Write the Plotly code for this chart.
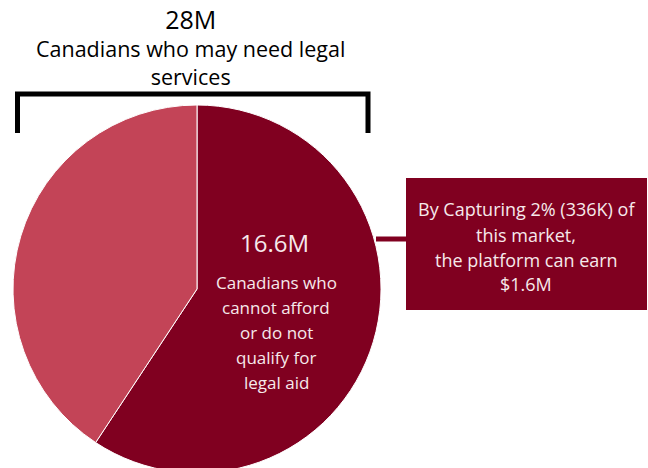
import plotly.graph_objects as go

# ---- data ----
slice_labels = ["Cannot afford / do not qualify for legal aid", "Other Canadians who may need legal services"]
slice_values = [16.6, 11.4]          # millions
total_value = 28                     # millions
title_lines = ["Canadians who may need legal", "services"]
body_lines = ["Canadians who", "cannot afford", "or do not", "qualify for", "legal aid"]
box_lines = ["By Capturing 2% (336K) of", "this market,", "the platform can earn", "$1.6M"]

DARK = "#800020"
LIGHT = "#C34457"
TXT = "#F6E9EB"
FONT = "Open Sans"

W, H = 648, 474

def px(x):
    return x / W

def py(y):
    return 1 - y / H

fig = go.Figure()
fig.add_trace(go.Pie(
    labels=slice_labels,
    values=slice_values,
    sort=False,
    direction="clockwise",
    rotation=0,
    marker=dict(colors=[DARK, LIGHT], line=dict(color="white", width=1)),
    textinfo="none",
    hoverinfo="label+value",
    showlegend=False,
    domain=dict(x=[px(13), px(381)], y=[py(473), py(105)]),
))

shapes = [
    dict(type="path", xref="paper", yref="paper",
         path=f"M {px(17.5)} {py(133)} L {px(17.5)} {py(94)} L {px(368)} {py(94)} L {px(368)} {py(133)}",
         line=dict(color="black", width=5), fillcolor="rgba(0,0,0,0)"),
    dict(type="line", xref="paper", yref="paper", x0=px(376), x1=px(407), y0=py(239), y1=py(239),
         line=dict(color=DARK, width=5)),
    dict(type="rect", xref="paper", yref="paper", x0=px(406), x1=px(647), y0=py(310), y1=py(178),
         fillcolor=DARK, line=dict(width=0)),
]

title_text = f"<span style='font-size:25px'>{total_value}M</span><br>" + "<br>".join(title_lines)
annotations = [
    dict(text=title_text, x=px(191), y=py(46), font=dict(size=21.5, color="black", family=FONT)),
    dict(text=f"{slice_values[0]}M", x=px(274), y=py(242), font=dict(size=24, color=TXT, family=FONT)),
]
for t, yy in zip(body_lines, [282, 307, 332, 357, 382]):
    annotations.append(dict(text=t, x=px(276), y=py(yy), font=dict(size=17, color=TXT, family=FONT)))
for t, yy in zip(box_lines, [209, 235, 260, 284]):
    annotations.append(dict(text=t, x=px(526), y=py(yy), font=dict(size=18, color=TXT, family=FONT)))
for a in annotations:
    a.update(xref="paper", yref="paper", showarrow=False, xanchor="center", yanchor="middle", align="center")

fig.update_layout(
    width=W, height=H,
    margin=dict(l=0, r=0, t=0, b=0),
    paper_bgcolor="white", plot_bgcolor="white",
    shapes=shapes, annotations=annotations,
)

fig.write_html("out.html", post_script="document.body.style.overflow='hidden';document.documentElement.style.overflow='hidden';")
